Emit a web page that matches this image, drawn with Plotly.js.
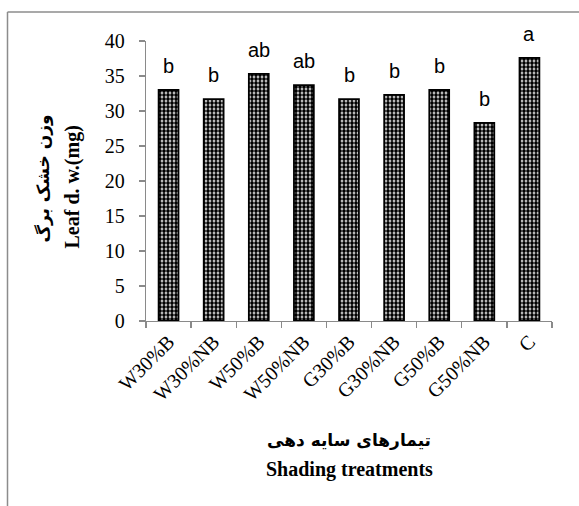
<!DOCTYPE html>
<html>
<head>
<meta charset="utf-8">
<script src="https://cdn.plot.ly/plotly-3.0.1.min.js"></script>
<style>html,body{margin:0;padding:0;background:#fff;}#chart{width:579px;height:506px;}</style>
</head>
<body>
<div id="chart"></div>
<script>
const categories = ["W30%B","W30%NB","W50%B","W50%NB","G30%B","G30%NB","G50%B","G50%NB","C"];
const leafDW = [33.0, 31.7, 35.3, 33.7, 31.7, 32.3, 33.0, 28.3, 37.6];
const letters = ["b","b","ab","ab","b","b","b","b","a"];
const yTicks = [0,5,10,15,20,25,30,35,40];
const yTitleFa = "وزن خشک برگ";
const yTitleEn = "Leaf d. w.(mg)";
const xTitleFa = "تیمارهای سایه دهی";
const xTitleEn = "Shading treatments";

const L = 146, R = 27, T = 41, B = 185;
const W = 579, H = 506;
const pw = W - L - R, ph = H - T - B;
const px = v => (v - L) / pw;
const py = v => (H - B - v) / ph;

const serif = "Liberation Serif";
const grey = "#8a8a8a";

const trace = {
  type: "bar",
  x: categories,
  y: leafDW,
  width: 0.44,
  marker: {
    color: "white",
    line: {color: "black", width: 1.8},
    pattern: {shape: ".", fgcolor: "black", bgcolor: "white", size: 4, solidity: 0.7, fillmode: "replace"}
  },
  hoverinfo: "x+y"
};

const annotations = categories.map((c, i) => ({
  x: c, y: leafDW[i], xref: "x", yref: "y",
  text: letters[i], showarrow: false, yanchor: "bottom", yshift: 11,
  font: {family: "Liberation Sans, Arial, sans-serif", size: 20, color: "black"}
}));
annotations.push(
  {xref: "paper", yref: "paper", x: px(43), y: py(178.5), text: "<b>" + yTitleFa + "</b>", textangle: -90,
   showarrow: false, xanchor: "center", yanchor: "middle",
   font: {family: "DejaVu Sans", size: 17, color: "black"}},
  {xref: "paper", yref: "paper", x: px(72), y: py(187.5), text: "<b>" + yTitleEn + "</b>", textangle: -90,
   showarrow: false, xanchor: "center", yanchor: "middle",
   font: {family: serif, size: 20, color: "black"}},
  {xref: "paper", yref: "paper", x: px(349), y: py(440), text: "<b>" + xTitleFa + "</b>",
   showarrow: false, xanchor: "center", yanchor: "middle",
   font: {family: "DejaVu Sans", size: 17, color: "black"}},
  {xref: "paper", yref: "paper", x: px(349), y: py(469), text: "<b>" + xTitleEn + "</b>",
   showarrow: false, xanchor: "center", yanchor: "middle",
   font: {family: serif, size: 20, color: "black"}}
);

const layout = {
  width: W, height: H,
  margin: {l: L, r: R, t: T, b: B, pad: 0},
  paper_bgcolor: "white", plot_bgcolor: "white",
  showlegend: false,
  bargap: 0.56,
  xaxis: {
    type: "category",
    showline: true, linecolor: grey, linewidth: 1.3,
    ticks: "outside", ticklen: 6, tickcolor: grey, tickwidth: 1.3,
    tickson: "boundaries",
    tickangle: -45,
    tickfont: {family: serif, size: 20, color: "black"},
    showgrid: false, zeroline: false,
    fixedrange: true
  },
  yaxis: {
    range: [0, 40],
    tickvals: yTicks,
    ticktext: yTicks.map(String),
    showline: true, linecolor: grey, linewidth: 1.3,
    ticks: "outside", ticklen: 6, tickcolor: grey, tickwidth: 1.3,
    ticklabelstandoff: 10,
    tickfont: {family: serif, size: 20, color: "black"},
    showgrid: false, zeroline: false,
    fixedrange: true
  },
  annotations: annotations,
  shapes: [
    {type: "line", xref: "paper", yref: "paper", x0: px(7.5), x1: px(600), y0: py(12), y1: py(12),
     line: {color: "#8c8c8c", width: 1.5}},
    {type: "line", xref: "paper", yref: "paper", x0: px(7.5), x1: px(7.5), y0: py(12), y1: py(530),
     line: {color: "#8c8c8c", width: 1.5}}
  ]
};

Plotly.newPlot("chart", [trace], layout, {displayModeBar: false, staticPlot: true});
</script>
</body>
</html>
